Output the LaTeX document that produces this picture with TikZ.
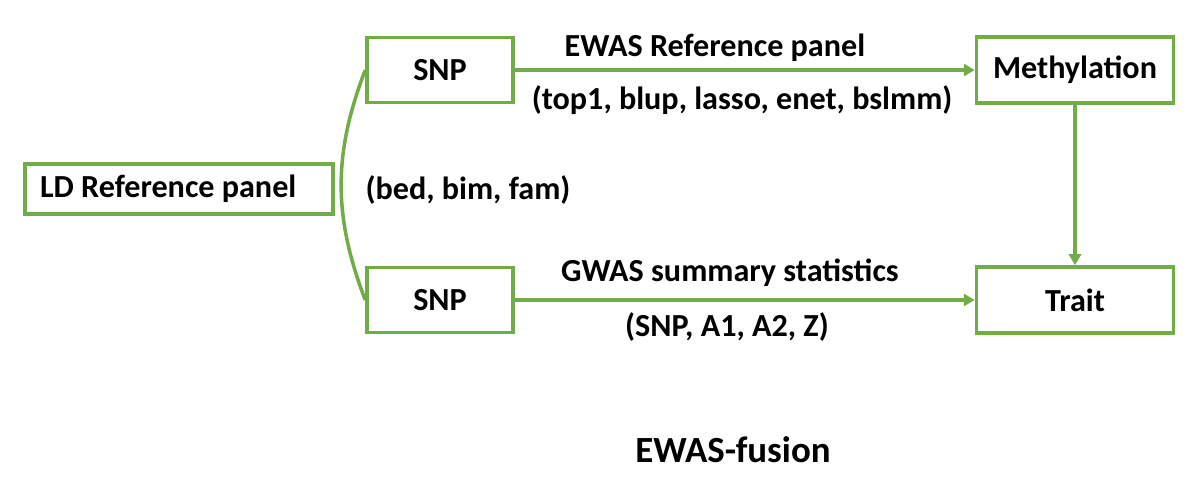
\documentclass[tikz,border=0pt]{standalone}
\usepackage{fontspec}
\setmainfont{Carlito}
\usetikzlibrary{arrows.meta, positioning}
\definecolor{lgreen}{RGB}{112,173,71}

\begin{document}
\begin{tikzpicture}[x=0.02cm,y=-0.02cm,
  box/.style={draw=lgreen,line width=2pt,fill=white,
              font=\fontsize{18.3}{21}\selectfont\bfseries,inner sep=0pt},
  lbl/.style={font=\fontsize{18.3}{21}\selectfont\bfseries,inner sep=0pt},
  arr/.style={-{Triangle[length=0.22cm,width=0.24cm]},lgreen,line width=2pt}
]
\useasboundingbox (0,0) rectangle (1204,479);
\node[box,minimum height=1cm,text width=5.56cm,align=flush left,inner xsep=0.3cm] (ld) at (179,189) {LD Reference panel};
\node[box,minimum width=2.92cm,minimum height=1.3cm] (snpa) at (440,70) {SNP};
\node[box,minimum width=2.92cm,minimum height=1.3cm] (snpb) at (440,300) {SNP};
\node[box,minimum width=3.94cm,minimum height=1.32cm] (meth) at (1075,70) {Methylation};
\node[box,minimum width=3.94cm,minimum height=1.32cm] (trait) at (1075,300) {Trait};
\node[lbl] (ewas) at (715,48) {EWAS Reference panel};
\node[lbl] (models) at (742,100) {(top1, blup, lasso, enet, bslmm)};
\node[lbl] (gwas) at (730,273) {GWAS summary statistics};
\node[lbl] (cols) at (727,327) {(SNP, A1, A2, Z)};
\node[lbl] (files) at (468,190) {(bed, bim, fam)};
\node[lbl,font=\fontsize{21}{24}\selectfont\bfseries] (title) at (733,450) {EWAS-fusion};
\draw[lgreen,line width=2pt] (snpa.west) to[bend right=21] (snpb.west);
\draw[arr] (snpa.east)--(meth.west);
\draw[arr] (snpb.east)--(trait.west);
\draw[arr] (meth.south)--(trait.north);
\end{tikzpicture}
\end{document}
